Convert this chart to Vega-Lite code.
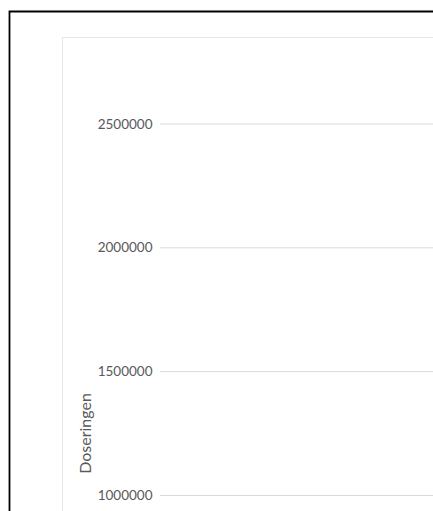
{
  "$schema": "https://vega.github.io/schema/vega-lite/v6.json",
  "width": 273,
  "height": 387,
  "autosize": {"type": "none"},
  "padding": {"left": 160, "top": 124, "right": 0, "bottom": 0},
  "background": "#ffffff",
  "config": {"view": {"stroke": null}},
  "layer": [
    {
      "data": {"values": [
        {"Doseringen": 1000000},
        {"Doseringen": 1500000},
        {"Doseringen": 2000000},
        {"Doseringen": 2500000}
      ]},
      "mark": {"type": "rule", "color": "#d9d9d9", "strokeWidth": 1},
      "encoding": {
        "y": {
          "field": "Doseringen",
          "type": "quantitative",
          "scale": {"domain": [937440, 2500000], "nice": false, "zero": false},
          "axis": {
            "title": "Doseringen",
            "values": [1000000, 1500000, 2000000, 2500000],
            "format": "d",
            "grid": false,
            "domain": false,
            "ticks": false,
            "tickSize": 0,
            "labelPadding": 8,
            "labelFont": "Lato",
            "labelFontSize": 13.5,
            "labelColor": "#595959",
            "titleFont": "Lato",
            "titleFontSize": 16,
            "titleFontWeight": "normal",
            "titleColor": "#595959",
            "titleX": -67,
            "titleY": 309,
            "titleAngle": 270
          }
        }
      }
    },
    {
      "data": {"values": [{"frame": "plot"}]},
      "mark": {"type": "rect", "fill": "transparent", "stroke": "#e6e6e6", "strokeWidth": 1, "clip": false},
      "encoding": {
        "x": {"datum": -0.3571, "type": "quantitative", "scale": {"domain": [0, 1]}, "axis": null},
        "x2": {"datum": 1.5},
        "y": {"datum": 2849255, "type": "quantitative"},
        "y2": {"datum": 500000}
      }
    },
    {
      "data": {"values": [{"frame": "outer"}]},
      "mark": {"type": "rect", "fill": "transparent", "stroke": "#000000", "strokeWidth": 1.8, "clip": false},
      "encoding": {
        "x": {"datum": -0.5513, "type": "quantitative"},
        "x2": {"datum": 1.5},
        "y": {"datum": 2954237, "type": "quantitative"},
        "y2": {"datum": 500000}
      }
    }
  ]
}
